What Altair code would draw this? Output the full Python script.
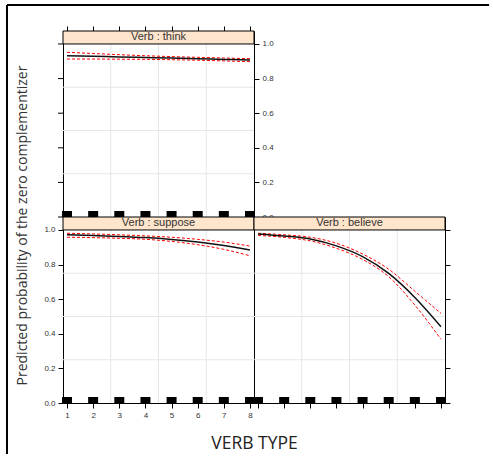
import altair as alt
import pandas as pd

# ---- data ----
verb_names = ["think", "suppose", "believe"]
x_vals = [1, 2, 3, 4, 5, 6, 7, 8]

think_fit = [0.932, 0.929, 0.925, 0.922, 0.919, 0.915, 0.911, 0.907]
think_hi = [0.952, 0.945, 0.938, 0.932, 0.927, 0.923, 0.919, 0.915]
think_lo = [0.913, 0.913, 0.912, 0.911, 0.909, 0.906, 0.902, 0.898]

suppose_fit = [0.972, 0.968, 0.963, 0.956, 0.945, 0.930, 0.910, 0.884]
suppose_hi = [0.981, 0.977, 0.972, 0.966, 0.958, 0.946, 0.930, 0.907]
suppose_lo = [0.958, 0.956, 0.952, 0.946, 0.934, 0.915, 0.888, 0.851]

believe_fit = [0.977, 0.965, 0.948, 0.908, 0.846, 0.749, 0.610, 0.441]
believe_hi = [0.981, 0.972, 0.958, 0.923, 0.861, 0.773, 0.646, 0.518]
believe_lo = [0.969, 0.957, 0.937, 0.894, 0.830, 0.730, 0.566, 0.368]

rug_x = [1, 2, 3, 4, 5, 6, 7, 8]
y_ticks = [0.0, 0.2, 0.4, 0.6, 0.8, 1.0]
grid_x = [2.673, 4.5, 6.327]
grid_y = [0.25, 0.5, 0.75]
x_domain = [0.846, 8.154]
y_domain = [0.0, 1.075]
strip_lo, strip_mid, strip_hi = 1.0, 1.0375, 1.075
x_mid = 4.5

# decorative frame (top and left edges of the original figure box), in scale units of the top panel
frame_x = -1.297
frame_x_end = 17.15
frame_y_top = 1.225
frame_y_bottom = -1.37

y_title = "Predicted probability of the zero complementizer"
x_title = "VERB TYPE"

W = 191
H = 186

xs = alt.Scale(domain=x_domain, nice=False, zero=False)
ys = alt.Scale(domain=y_domain, nice=False, zero=False)

LABEL_FONT = "Liberation Sans"
TITLE_FONT = "Open Sans"


def tick_axis(orient, labels, values, fmt=None, title=None, **kw):
    args = dict(
        orient=orient, values=values, labels=labels, ticks=True, tickSize=5,
        tickColor="black", tickWidth=1, domain=False, grid=False,
        labelFont=LABEL_FONT, labelFontSize=8, labelColor="#333",
        labelPadding=3, title=title,
    )
    if fmt:
        args["format"] = fmt
    args.update(kw)
    return alt.Axis(**args)


def panel(name, fit, lo, hi, yaxis, xaxis, left_ticks=False, frame=False):
    df = pd.DataFrame({"x": x_vals, "fit": fit, "lo": lo, "hi": hi})
    gx = pd.DataFrame({"gx": grid_x})
    gy = pd.DataFrame({"gy": grid_y})
    rug = pd.DataFrame({"rx": rug_x})
    yt = pd.DataFrame({"yt": y_ticks})
    one = pd.DataFrame({"k": [0]})

    def X(f=None, datum=None):
        if datum is not None:
            return alt.X(datum=datum, scale=xs, axis=xaxis)
        return alt.X(f, scale=xs, axis=xaxis)

    def Y(f=None, datum=None):
        if datum is not None:
            return alt.Y(datum=datum, scale=ys, axis=yaxis)
        return alt.Y(f, scale=ys, axis=yaxis)

    layers = []
    layers.append(alt.Chart(gx).mark_rule(color="#e6e6e6", strokeWidth=1).encode(x=X("gx:Q")))
    layers.append(alt.Chart(gy).mark_rule(color="#e6e6e6", strokeWidth=1).encode(y=Y("gy:Q")))
    # strip
    layers.append(alt.Chart(one).mark_rect(fill="#ffe5cc", stroke="black", strokeWidth=1).encode(
        x=X(datum=x_domain[0]), x2=alt.X2(datum=x_domain[1]),
        y=Y(datum=strip_lo), y2=alt.Y2(datum=strip_hi)))
    layers.append(alt.Chart(one).mark_text(
        text=f"Verb : {name}", font=LABEL_FONT, fontSize=11, color="#333",
        baseline="middle", align="center").encode(
        x=X(datum=x_mid), y=Y(datum=strip_mid)))
    # confidence bands
    for col in ["lo", "hi"]:
        layers.append(alt.Chart(df).mark_line(
            color="#ff0000", strokeWidth=1, strokeDash=[3, 2], interpolate="monotone").encode(
            x=X("x:Q"), y=Y(f"{col}:Q")))
    layers.append(alt.Chart(df).mark_line(
        color="#111", strokeWidth=1.5, interpolate="monotone").encode(
        x=X("x:Q"), y=Y("fit:Q")))
    # rug
    layers.append(alt.Chart(rug).mark_tick(
        orient="horizontal", size=10, thickness=6, color="black", opacity=1, yOffset=-3).encode(
        x=X("rx:Q"), y=Y(datum=0)))
    if left_ticks:
        layers.append(alt.Chart(yt).mark_tick(
            orient="horizontal", size=5, thickness=1, color="black", opacity=1, xOffset=-2.5).encode(
            x=X(datum=x_domain[0]), y=Y("yt:Q")))
    if frame:
        layers.append(alt.Chart(one).mark_rule(color="black", strokeWidth=2).encode(
            x=X(datum=frame_x), x2=alt.X2(datum=frame_x_end), y=Y(datum=frame_y_top)))
        layers.append(alt.Chart(one).mark_rule(color="black", strokeWidth=2).encode(
            x=X(datum=frame_x), y=Y(datum=frame_y_top), y2=alt.Y2(datum=frame_y_bottom)))
    return alt.layer(*layers).properties(width=W, height=H)


think = panel(
    verb_names[0], think_fit, think_lo, think_hi,
    yaxis=tick_axis("right", True, y_ticks, fmt=".1f"),
    xaxis=tick_axis("top", False, x_vals),
    left_ticks=True, frame=True,
)
suppose = panel(
    verb_names[1], suppose_fit, suppose_lo, suppose_hi,
    yaxis=tick_axis("left", True, y_ticks, fmt=".1f", title=y_title,
                    titleX=-41, titleY=8, titleAngle=270, titleAlign="center",
                    titleBaseline="middle", titleFont=TITLE_FONT, titleFontSize=14,
                    titleFontWeight="normal", titleColor="#333"),
    xaxis=tick_axis("bottom", True, x_vals, fmt="d", title=x_title,
                    titleX=W, titleY=40, titleAlign="center", titleBaseline="middle",
                    titleFont=TITLE_FONT, titleFontSize=17.5, titleFontWeight="normal",
                    titleColor="#222"),
)
believe = panel(
    verb_names[2], believe_fit, believe_lo, believe_hi,
    yaxis=tick_axis("right", False, y_ticks),
    xaxis=tick_axis("bottom", False, x_vals),
)

bottom_row = alt.hconcat(suppose, believe, spacing=0, bounds="flush")
chart = alt.vconcat(think, bottom_row, spacing=0, bounds="flush").properties(
    padding={"left": 5, "top": 3, "right": 0, "bottom": 0},
    background="white",
).configure_view(stroke="black", strokeWidth=1)

chart.save("out.html", embed_options={"renderer": "svg", "actions": False})
